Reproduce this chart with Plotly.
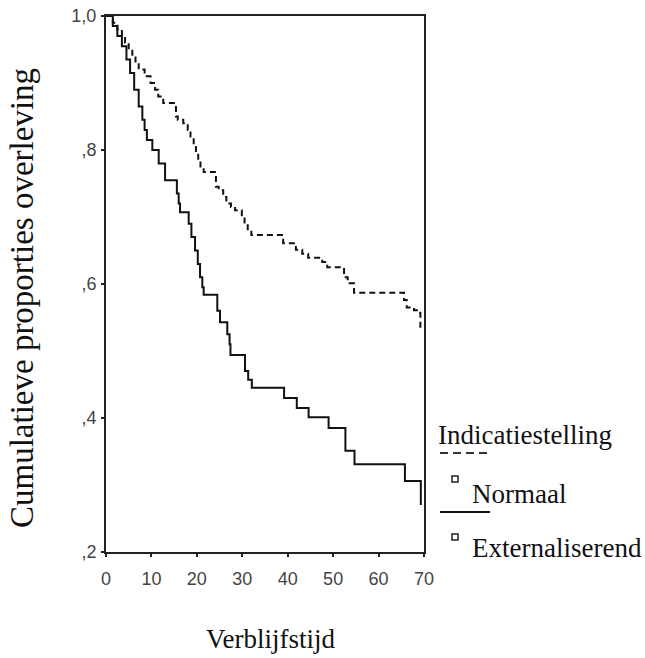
import plotly.graph_objects as go

# Kaplan-Meier step data: (time, survival after event)
ext_time = [0, 1.5, 2.5, 3.5, 4.5, 5.3, 6.2, 7.2, 8.0, 8.5, 9.0, 10.2, 11.6, 13.0, 15.6, 16.0, 16.3,
            18.2, 18.8, 19.6, 20.2, 20.7, 21.2, 21.5, 24.5, 25.1, 26.7, 27.2, 27.4, 30.6, 31.3, 32.1,
            39.2, 42.0, 44.6, 49.0, 52.7, 54.7, 65.8, 69.3]
ext_surv = [1.0, 0.985, 0.97, 0.955, 0.935, 0.915, 0.89, 0.865, 0.845, 0.83, 0.815, 0.80, 0.78, 0.755, 0.735, 0.72, 0.707,
            0.69, 0.67, 0.65, 0.63, 0.61, 0.595, 0.584, 0.56, 0.543, 0.525, 0.51, 0.494, 0.47, 0.457, 0.445,
            0.43, 0.415, 0.401, 0.385, 0.351, 0.331, 0.306, 0.27]

norm_time = [0, 1.5, 2.5, 3.5, 4.2, 5.0, 5.8, 6.5, 7.2, 8.5, 9.8, 10.8, 11.5, 12.6, 15.4, 15.8, 17.0, 18.0,
             18.6, 19.3, 19.8, 20.3, 20.8, 21.5, 24.2, 24.8, 25.8, 26.5, 27.5, 28.4, 29.9, 30.5, 31.2, 32.0,
             39.0, 41.8, 43.2, 44.5, 47.6, 48.7, 52.4, 53.2, 54.6, 65.6, 66.2, 67.8, 68.8, 69.2]
norm_surv = [1.0, 0.99, 0.98, 0.97, 0.96, 0.95, 0.94, 0.93, 0.92, 0.91, 0.90, 0.89, 0.88, 0.87, 0.85, 0.845, 0.84, 0.83,
             0.82, 0.81, 0.795, 0.783, 0.773, 0.767, 0.745, 0.74, 0.73, 0.72, 0.715, 0.71, 0.70, 0.69, 0.68, 0.673,
             0.661, 0.651, 0.645, 0.639, 0.633, 0.625, 0.61, 0.601, 0.587, 0.576, 0.565, 0.561, 0.557, 0.534]

x_ticks = [0, 10, 20, 30, 40, 50, 60, 70]
y_ticks = [1.0, 0.8, 0.6, 0.4, 0.2]
y_tick_text = ["1,0", ",8", ",6", ",4", ",2"]

series_names = ["Normaal", "Externaliserend"]
legend_title = "Indicatiestelling"
x_title = "Verblijfstijd"
y_title = "Cumulatieve proporties overleving"

serif = "Liberation Serif, Times New Roman, serif"
sans = "Liberation Sans, Arial, sans-serif"

fig = go.Figure()
fig.add_trace(go.Scatter(x=norm_time, y=norm_surv, mode="lines", name=series_names[0],
                         line=dict(shape="hv", color="#111111", width=2, dash="6px,4px")))
fig.add_trace(go.Scatter(x=ext_time, y=ext_surv, mode="lines", name=series_names[1],
                         line=dict(shape="hv", color="#111111", width=2)))

fig.update_layout(
    width=645, height=658,
    margin=dict(l=106, r=221, t=16, b=106),
    paper_bgcolor="white", plot_bgcolor="white",
    showlegend=False,
    xaxis=dict(range=[0, 70], tickvals=x_ticks, showgrid=False, zeroline=False, automargin=False,
               showline=True, linecolor="#222222", linewidth=2, mirror=True,
               ticks="outside", ticklen=3, tickwidth=2, tickcolor="#222222",
               ticklabelstandoff=6, ticklabeloverflow="allow",
               tickfont=dict(family=sans, size=18, color="#444444")),
    yaxis=dict(range=[0.2, 1.0], tickvals=y_ticks, ticktext=y_tick_text, showgrid=False, zeroline=False,
               automargin=False,
               showline=True, linecolor="#222222", linewidth=2, mirror=True,
               ticks="outside", ticklen=3, tickwidth=2, tickcolor="#222222",
               ticklabelstandoff=1, ticklabeloverflow="allow",
               tickfont=dict(family=sans, size=18, color="#444444")),
)

# helpers: pixel -> paper coords (plot area spans px 106..424 and 16..552)
def px_x(px):
    return (px - 106) / 318.0

def px_y(py):
    return (552 - py) / 536.0

# axis titles
fig.add_annotation(text=x_title, xref="paper", yref="paper", x=px_x(270), y=px_y(639), xanchor="center", yanchor="middle",
                   showarrow=False, font=dict(family=serif, size=27, color="#111111"))
fig.add_annotation(text=y_title, xref="paper", yref="paper", x=px_x(22), y=px_y(298), xanchor="center", yanchor="middle",
                   textangle=-90, showarrow=False, font=dict(family=serif, size=33, color="#111111"))

# custom legend
fig.add_annotation(text=legend_title, xref="paper", yref="paper", x=px_x(436), y=px_y(435),
                   xanchor="left", yanchor="middle", showarrow=False,
                   font=dict(family=serif, size=27, color="#111111"))
fig.add_shape(type="line", xref="paper", yref="paper", x0=px_x(440), x1=px_x(490), y0=px_y(453), y1=px_y(453),
              line=dict(color="#333333", width=2, dash="8px,5px"))
fig.add_shape(type="line", xref="paper", yref="paper", x0=px_x(440), x1=px_x(490), y0=px_y(512), y1=px_y(512),
              line=dict(color="#111111", width=2))

legend_rows = [(series_names[0], 479, 494), (series_names[1], 537, 548)]
for name, sq_center, txt_center in legend_rows:
    fig.add_shape(type="rect", xref="paper", yref="paper",
                  x0=px_x(452), x1=px_x(458), y0=px_y(sq_center + 3), y1=px_y(sq_center - 3),
                  line=dict(color="#222222", width=1.5))
    fig.add_annotation(text=name, xref="paper", yref="paper", x=px_x(470), y=px_y(txt_center),
                       xanchor="left", yanchor="middle", showarrow=False,
                       font=dict(family=serif, size=27, color="#111111"))

# remove the browser's default body margin so the figure fills the 645x658 window exactly
fig.write_html("out.html", config={"displayModeBar": False},
               post_script="document.body.style.margin='0';")
